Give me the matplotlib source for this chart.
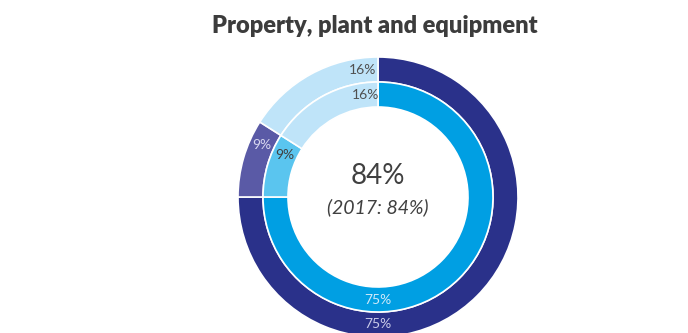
import matplotlib.pyplot as plt
import numpy as np

plt.rcParams['font.family'] = ['Lato', 'DejaVu Sans']

labels = ["75%", "9%", "16%"]
outer_values = [75, 9, 16]
inner_values = [75, 9, 16]
outer_colors = ["#2a318a", "#5a5aa6", "#bfe4f9"]
inner_colors = ["#009fe3", "#5ac5ef", "#bfe4f9"]
outer_text_colors = ["#c9cbe9", "#d8d8f0", "#505050"]
inner_text_colors = ["#cfe9f9", "#404040", "#505050"]
# angle (deg) where each label sits
label_angles = [270, 156, 97]

center_text = "84%"
sub_text = "(2017: 84%)"
title = "Property, plant and equipment"

fig = plt.figure(figsize=(6.88, 3.33), dpi=100)
ax = fig.add_axes([0, 0, 1, 1])
ax.set_xlim(0, 688)
ax.set_ylim(0, 333)
ax.set_aspect("equal")
ax.axis("off")

cx, cy = 378, 136
r_out, r_mid, r_in = 140, 115, 90

ax.pie(outer_values, radius=r_out, center=(cx, cy), colors=outer_colors,
       startangle=90, counterclock=False,
       wedgeprops=dict(width=r_out - r_mid, edgecolor="white", linewidth=1.2))
ax.pie(inner_values, radius=r_mid, center=(cx, cy), colors=inner_colors,
       startangle=90, counterclock=False,
       wedgeprops=dict(width=r_mid - r_in, edgecolor="white", linewidth=1.2))
ax.set_xlim(0, 688)
ax.set_ylim(0, 333)

for lab, ang, c1, c2 in zip(labels, label_angles, outer_text_colors, inner_text_colors):
    a = np.deg2rad(ang)
    ro = (r_out + r_mid) / 2
    ri = (r_mid + r_in) / 2
    ax.text(cx + ro * np.cos(a), cy + ro * np.sin(a), lab, color=c1,
            fontsize=10, ha="center", va="center")
    ax.text(cx + ri * np.cos(a), cy + ri * np.sin(a), lab, color=c2,
            fontsize=10, ha="center", va="center")

ax.text(cx, cy + 21, center_text, fontsize=20, color="#404040",
        ha="center", va="center")
ax.text(cx, cy - 10, sub_text, fontsize=14, color="#404040", style="italic",
        ha="center", va="center")

ax.text(cx - 3, 307, title, fontsize=17, fontweight="heavy", color="#3c3c3c",
        ha="center", va="center")

fig.savefig("out.png", dpi=100)
